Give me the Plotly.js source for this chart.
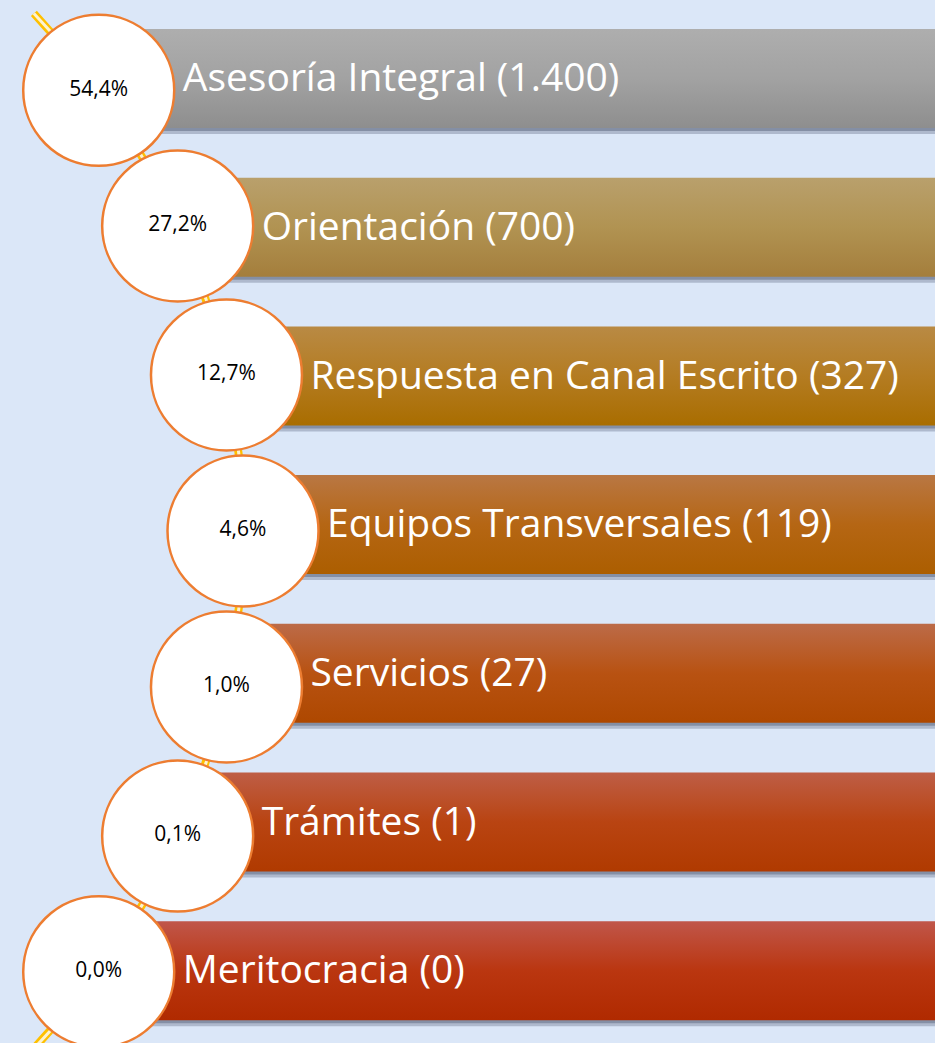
<!DOCTYPE html>
<html>
<head>
<meta charset="utf-8">
<script src="https://cdn.plot.ly/plotly-3.0.1.min.js"></script>
<style>html,body{margin:0;padding:0;background:#DBE7F8;}#chart{width:935px;height:1043px;}</style>
</head>
<body>
<div id="chart"></div>
<script>
// ---- data ----
const categories = ["Asesoría Integral", "Orientación", "Respuesta en Canal Escrito", "Equipos Transversales", "Servicios", "Trámites", "Meritocracia"];
const counts = [1400, 700, 327, 119, 27, 1, 0];
const percents = [54.4, 27.2, 12.7, 4.6, 1.0, 0.1, 0.0];

// ---- styling / layout ----
const topColors = ["#AEAEAE", "#B9A06C", "#B98A44", "#B97743", "#BC6B48", "#BE5E46", "#C0564A"];
const midColors = ["#A2A2A2", "#B19352", "#B47C22", "#B56614", "#B85212", "#B94412", "#BA3610"];
const botColors = ["#8E8E8E", "#A47E3C", "#A96D00", "#AC5E00", "#AE4800", "#B03A00", "#B02A00"];
const W = 935, H = 1043;
const barTop0 = 29, barStep = 148.7, barH = 99;
const arcR = 745, arcYc = 531, arcXmax = 243;
const arcXc = arcXmax - arcR;
const dTheta = Math.asin(156 / arcR);
const arcEnd = 0.768;
const circleSize = 151;

function fmt(n) { return String(n).replace(/\B(?=(\d{3})+(?!\d))/g, "."); }
function fmtPct(p) { return p.toFixed(1).replace(".", ",") + "%"; }

const n = categories.length;
const circX = [], circY = [];
for (let i = 0; i < n; i++) {
  const th = (i - 3) * dTheta;
  circX.push(arcXc + arcR * Math.cos(th));
  circY.push(arcYc + arcR * Math.sin(th));
}

const traces = [];
// arc
const arcX = [], arcY = [];
for (let k = 0; k <= 160; k++) { const t = -arcEnd + 2 * arcEnd * k / 160; arcX.push(arcXc + arcR * Math.cos(t)); arcY.push(arcYc + arcR * Math.sin(t)); }
traces.push({type:"scatter", mode:"lines", x:arcX, y:arcY, line:{color:"#FFC000", width:8}, hoverinfo:"skip", showlegend:false});
traces.push({type:"scatter", mode:"lines", x:arcX, y:arcY, line:{color:"#FDF3D0", width:3}, hoverinfo:"skip", showlegend:false});

// bars
for (let i = 0; i < n; i++) {
  const top = barTop0 + i * barStep, bot = top + barH;
  const left = circX[i];
  traces.push({type:"scatter", mode:"lines", x:[left+2, W+10, W+10, left+2, left+2], y:[top+4, top+4, bot+6, bot+6, top+4],
    fill:"toself", fillcolor:"rgba(70,80,105,0.3)", line:{width:0}, hoverinfo:"skip", showlegend:false});
  traces.push({type:"scatter", mode:"lines", x:[left+2, W+10, W+10, left+2, left+2], y:[top+3, top+3, bot+3, bot+3, top+3],
    fill:"toself", fillcolor:"rgba(70,80,105,0.4)", line:{width:0}, hoverinfo:"skip", showlegend:false});
  traces.push({type:"scatter", mode:"lines", x:[left, W+10, W+10, left, left], y:[top, top, bot, bot, top],
    fill:"toself", line:{width:0},
    fillgradient:{type:"vertical", start:top, stop:bot, colorscale:[[0, topColors[i]], [0.5, midColors[i]], [1, botColors[i]]]},
    hoverinfo:"skip", showlegend:false});
}

// bar labels
const labX = [], labY = [], labT = [];
for (let i = 0; i < n; i++) {
  labX.push(circX[i] + 84);
  labY.push(barTop0 + i * barStep + barH / 2 + 3);
  labT.push(categories[i] + " (" + fmt(counts[i]) + ")");
}
traces.push({type:"scatter", mode:"text", x:labX, y:labY, text:labT, textposition:"middle right",
  textfont:{family:"Open Sans, sans-serif", size:39, color:"#FFFFFF"}, hoverinfo:"skip", showlegend:false});

// circles
traces.push({type:"scatter", mode:"markers+text", x:circX, y:circY, text:percents.map(fmtPct), textposition:"middle center",
  marker:{size:circleSize, color:"#FFFFFF", line:{color:"#ED7D31", width:2.5}},
  textfont:{family:"Open Sans, sans-serif", size:21, color:"#000000"}, hoverinfo:"skip", showlegend:false});

const layout = {
  width: W, height: H,
  margin: {l:0, r:0, t:0, b:0},
  paper_bgcolor: "#DBE7F8", plot_bgcolor: "#DBE7F8",
  xaxis: {range:[0, W], visible:false, fixedrange:true},
  yaxis: {range:[H, 0], visible:false, fixedrange:true},
  showlegend: false
};
Plotly.newPlot("chart", traces, layout, {staticPlot:true, displayModeBar:false});
</script>
</body>
</html>
